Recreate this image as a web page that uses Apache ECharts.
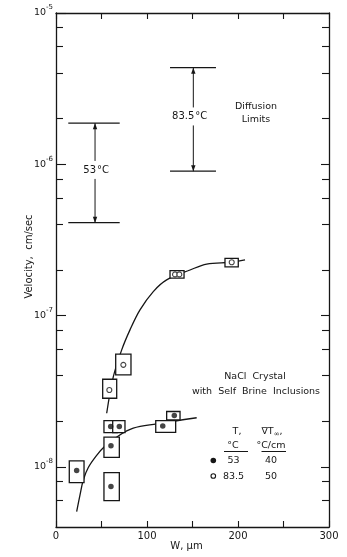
<!DOCTYPE html>
<html>
<head>
<meta charset="utf-8">
<script src="https://cdn.jsdelivr.net/npm/echarts@6/dist/echarts.min.js"></script>
<style>
  html, body { margin: 0; padding: 0; background: #fff; }
  #chart { width: 347px; height: 557px; }
</style>
</head>
<body>
<div id="chart"></div>
<script>
// ---- data -------------------------------------------------------------
// x axis: inclusion width W (µm)
const xTickLabels = ['0', '100', '200', '300'];
const xTickStep = 50;

// y axis: velocity (cm/sec), logarithmic; exponents of the labelled decades
const yDecades = [-8, -7, -6, -5];
const yMinorMantissas = [2, 4, 6, 8];
const yBottom = 4e-9;
const yTop = 1e-5;

// measured migration velocities, T = 53 °C
const w53 = [22.7, 60.4, 60.4, 60.1, 69.6, 117.3, 130.0];
const v53 = [9.44e-9, 7.40e-9, 1.38e-8, 1.85e-8, 1.85e-8, 1.86e-8, 2.18e-8];
// measured migration velocities, T = 83.5 °C
const w835 = [58.6, 74.0, 130.8, 135.5, 193.1];
const v835 = [3.22e-8, 4.72e-8, 1.87e-7, 1.87e-7, 2.25e-7];

// uncertainty boxes: W low, W high, v low, v high
const boxW53Lo = [14.6, 52.7, 52.7, 52.7, 62.3, 109.6, 121.6];
const boxW53Hi = [30.8, 69.6, 69.6, 67.4, 75.8, 131.5, 136.3];
const boxV53Lo = [7.87e-9, 5.98e-9, 1.156e-8, 1.68e-8, 1.68e-8, 1.69e-8, 2.04e-8];
const boxV53Hi = [1.094e-8, 9.16e-9, 1.57e-8, 2.02e-8, 2.02e-8, 2.02e-8, 2.32e-8];
const boxW835Lo = [51.3, 65.6, 125.3, 185.7];
const boxW835Hi = [66.7, 82.4, 140.7, 200.3];
const boxV835Lo = [2.84e-8, 4.05e-8, 1.77e-7, 2.10e-7];
const boxV835Hi = [3.79e-8, 5.55e-8, 1.98e-7, 2.39e-7];

// hand-drawn trend curves
const fitW53 = [22.7, 26.4, 30.0, 35.5, 44.7, 53.1, 68.5, 84.9, 110.7, 154.6];
const fitV53 = [5.06e-9, 6.52e-9, 8.18e-9, 9.89e-9, 1.19e-8, 1.355e-8, 1.60e-8, 1.80e-8, 1.92e-8, 2.11e-8];
const fitW835 = [55.7, 63.0, 72.2, 81.3, 92.3, 106.9, 121.6, 147.3, 165.6, 193.0, 207.7];
const fitV835 = [2.26e-8, 3.94e-8, 5.93e-8, 8.04e-8, 1.09e-7, 1.44e-7, 1.72e-7, 2.00e-7, 2.19e-7, 2.25e-7, 2.33e-7];

// diffusion-limited velocity ranges
const limitTemps = ['53', '83.5'];
const limitW = [42.9, 150.9];
const limitCapWLo = [13.5, 125.3];
const limitCapWHi = [70.0, 175.8];
const limitVLo = [4.11e-7, 9.0e-7];
const limitVHi = [1.87e-6, 4.35e-6];

// key table
const keyTemps = ['53', '83.5'];
const keyGradients = ['40', '50'];

// ---- helpers ------------------------------------------------------------
const FONT = 'DejaVu Sans';
const INK = '#161616';
const lg = Math.log10;
const yMin = lg(yBottom);
const yMax = lg(yTop);
const xMax = Number(xTickLabels[xTickLabels.length - 1]);

const xTicks = [];
for (let v = 0; v <= xMax; v += xTickStep) xTicks.push(v);
const xLabelValues = xTickLabels.map(Number);

const yMinor = [];
for (let d = Math.floor(yMin); d < yMax; d++) {
  yMinorMantissas.forEach(m => {
    const t = d + lg(m);
    if (t > yMin + 0.01 && t < yMax - 0.01) yMinor.push(t);
  });
}

const axisLine = { show: true, lineStyle: { color: INK, width: 1.3 } };
const tickStyle = { color: INK, width: 1.1 };

function yAxisBase(position) {
  return {
    type: 'value', min: yMin, max: yMax, position,
    axisLine: axisLine, splitLine: { show: false },
    axisLabel: { show: false }
  };
}
function xAxisBase(position) {
  return {
    type: 'value', min: 0, max: xMax, interval: xTickStep, position,
    axisLine: axisLine, splitLine: { show: false },
    axisTick: { show: true, inside: true, length: 6, lineStyle: tickStyle, customValues: xTicks },
    axisLabel: { show: false }
  };
}

const pts = (ws, vs) => ws.map((w, i) => [w, lg(vs[i])]);
const boxes = (wl, wh, vl, vh) => wl.map((w, i) => [w, wh[i], lg(vl[i]), lg(vh[i])]);

function renderBox(params, api) {
  const p1 = api.coord([api.value(0), api.value(3)]);
  const p2 = api.coord([api.value(1), api.value(2)]);
  return {
    type: 'rect',
    shape: { x: p1[0], y: p1[1], width: p2[0] - p1[0], height: p2[1] - p1[1] },
    style: { fill: '#fff', stroke: INK, lineWidth: 1.3 }
  };
}

function renderLimit(params, api) {
  const i = params.dataIndex;
  const x = api.coord([api.value(0), yMin])[0];
  const yLo = api.coord([0, api.value(1)])[1];
  const yHi = api.coord([0, api.value(2)])[1];
  const xl = api.coord([api.value(3), yMin])[0];
  const xr = api.coord([api.value(4), yMin])[0];
  const ym = (yLo + yHi) / 2 - 3;
  const ah = 6, aw = 2.2;
  const stroke = { stroke: INK, lineWidth: 1.2 };
  const label = { fontFamily: FONT, fontSize: 10, fill: INK, backgroundColor: '#fff', verticalAlign: 'middle' };
  return {
    type: 'group',
    children: [
      { type: 'line', shape: { x1: xl, y1: yHi, x2: xr, y2: yHi }, style: stroke },
      { type: 'line', shape: { x1: xl, y1: yLo, x2: xr, y2: yLo }, style: stroke },
      { type: 'line', shape: { x1: x, y1: yHi, x2: x, y2: yLo }, style: { stroke: INK, lineWidth: 1 } },
      { type: 'polygon', shape: { points: [[x, yHi], [x - aw, yHi + ah], [x + aw, yHi + ah]] }, style: { fill: INK } },
      { type: 'polygon', shape: { points: [[x, yLo], [x - aw, yLo - ah], [x + aw, yLo - ah]] }, style: { fill: INK } },
      { type: 'text', x: x + 1, y: ym, style: Object.assign({ text: limitTemps[i], align: 'right', padding: [4, 0, 4, 1] }, label) },
      { type: 'text', x: x + 1, y: ym, style: Object.assign({ text: '°C', align: 'left', padding: [4, 1, 4, 1] }, label) }
    ]
  };
}

// ---- chart --------------------------------------------------------------
const chart = echarts.init(document.getElementById('chart'), null, { renderer: 'canvas' });

const txt = (text, x, y, size, extra) => ({
  type: 'text', x, y,
  style: Object.assign({ text, fontFamily: FONT, fontSize: size, fill: INK, align: 'center', verticalAlign: 'middle' }, extra || {})
});

chart.setOption({
  animation: false,
  backgroundColor: '#fff',
  grid: { left: 56, right: 18, top: 13, bottom: 30, containLabel: false },
  xAxis: [
    Object.assign(xAxisBase('bottom'), {
      name: 'W, μm', nameLocation: 'middle', nameGap: 14, nameMoveOverlap: false,
      nameTextStyle: { fontFamily: FONT, fontSize: 10, color: INK, padding: [0, 12, 0, 0] },
      axisLabel: {
        show: true, customValues: xLabelValues, margin: 4,
        fontFamily: FONT, fontSize: 10, color: INK
      }
    }),
    xAxisBase('top')
  ],
  yAxis: [
    Object.assign(yAxisBase('left'), {
      name: 'Velocity,  cm/sec', nameLocation: 'middle', nameGap: 22, nameRotate: 90, nameMoveOverlap: false,
      nameTextStyle: { fontFamily: FONT, fontSize: 10, color: INK, padding: [0, 0, 0, 27] },
      axisTick: { show: true, inside: true, length: 10, lineStyle: tickStyle, customValues: yDecades },
      axisLabel: {
        show: true, customValues: yDecades, margin: 3,
        formatter: v => '{b|10}{s|' + Math.round(v) + '}',
        rich: {
          b: { fontFamily: FONT, fontSize: 9.5, color: INK },
          s: { fontFamily: FONT, fontSize: 7, color: INK, padding: [0, 0, 11, 0] }
        }
      }
    }),
    Object.assign(yAxisBase('left'), {
      axisLine: { show: false },
      axisTick: { show: true, inside: true, length: 7, lineStyle: tickStyle, customValues: yMinor }
    }),
    Object.assign(yAxisBase('right'), {
      axisTick: { show: true, inside: true, length: 8, lineStyle: tickStyle, customValues: yDecades }
    }),
    Object.assign(yAxisBase('right'), {
      axisLine: { show: false },
      axisTick: { show: true, inside: true, length: 7, lineStyle: tickStyle, customValues: yMinor }
    })
  ],
  series: [
    {
      type: 'line', name: 'fit 53', data: pts(fitW53, fitV53), smooth: 0.35,
      showSymbol: false, lineStyle: { color: INK, width: 1.3 }, z: 1, silent: true
    },
    {
      type: 'line', name: 'fit 83.5', data: pts(fitW835, fitV835), smooth: 0.35,
      showSymbol: false, lineStyle: { color: INK, width: 1.3 }, z: 1, silent: true
    },
    {
      type: 'custom', name: 'boxes 53', renderItem: renderBox, z: 2,
      encode: { x: [0, 1], y: [2, 3] },
      data: boxes(boxW53Lo, boxW53Hi, boxV53Lo, boxV53Hi)
    },
    {
      type: 'custom', name: 'boxes 83.5', renderItem: renderBox, z: 2,
      encode: { x: [0, 1], y: [2, 3] },
      data: boxes(boxW835Lo, boxW835Hi, boxV835Lo, boxV835Hi)
    },
    {
      type: 'scatter', name: '53', data: pts(w53, v53), symbol: 'circle', symbolSize: 5.5,
      itemStyle: { color: INK }, z: 3
    },
    {
      type: 'scatter', name: '83.5', data: pts(w835, v835), symbol: 'circle', symbolSize: 5,
      itemStyle: { color: '#fff', borderColor: INK, borderWidth: 1.1 }, z: 3
    },
    {
      type: 'custom', name: 'diffusion limits', renderItem: renderLimit, z: 2,
      encode: { x: [0, 3, 4], y: [1, 2] },
      data: limitW.map((w, i) => [w, lg(limitVLo[i]), lg(limitVHi[i]), limitCapWLo[i], limitCapWHi[i]])
    }
  ],
  graphic: [
    txt('Diffusion', 256, 107, 9.5),
    txt('Limits', 256, 119.5, 9.5),
    txt('NaCl  Crystal', 255, 377, 9.5),
    txt('with  Self  Brine  Inclusions', 256, 392, 9.5),
    txt('T,', 237, 432, 9.5),
    txt('°C', 233, 446, 9.5),
    { type: 'line', shape: { x1: 224, y1: 451.5, x2: 248, y2: 451.5 }, style: { stroke: INK, lineWidth: 1 } },
    {
      type: 'text', x: 272, y: 432,
      style: {
        text: '{a|∇T}{u|∞}{a|,}', align: 'center', verticalAlign: 'middle',
        rich: {
          a: { fontFamily: FONT, fontSize: 9.5, fill: INK, color: INK },
          u: { fontFamily: FONT, fontSize: 7, fill: INK, color: INK, padding: [5, 0, 0, 0] }
        }
      }
    },
    txt('°C/cm', 271, 446, 9.5),
    { type: 'line', shape: { x1: 261.5, y1: 451.5, x2: 286, y2: 451.5 }, style: { stroke: INK, lineWidth: 1 } },
    { type: 'circle', shape: { cx: 213.3, cy: 460.5, r: 2.8 }, style: { fill: INK } },
    txt(keyTemps[0], 233.5, 461, 9.5),
    txt(keyGradients[0], 271, 461, 9.5),
    { type: 'circle', shape: { cx: 213.3, cy: 476, r: 2.3 }, style: { fill: '#fff', stroke: INK, lineWidth: 1.1 } },
    txt(keyTemps[1], 233.5, 476.5, 9.5),
    txt(keyGradients[1], 271, 476.5, 9.5)
  ]
});
</script>
</body>
</html>
